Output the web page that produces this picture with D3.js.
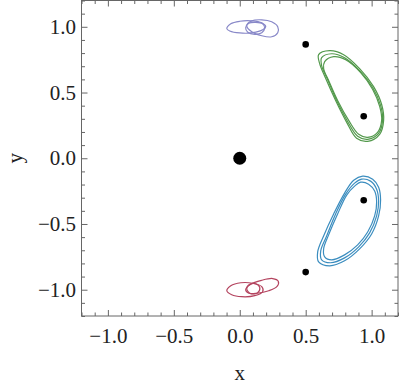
<!DOCTYPE html>
<html>
<head>
<meta charset="utf-8">
<script src="https://cdnjs.cloudflare.com/ajax/libs/d3/7.8.5/d3.min.js"></script>
<style>
  body { margin: 0; background: #fff; }
  svg { display: block; }
  svg text { font-family: "Liberation Serif", serif !important; font-size: 21px !important; }
</style>
</head>
<body>
<svg id="chart"></svg>
<script>
// Tick values
const majorTicks = [-1, -0.5, 0, 0.5, 1];

// Primaries: big one at the origin, small ones around it
const bigBody = [[0, 0]];
const smallBodies = [[0.5, 0.866], [0.94, 0.32], [0.94, -0.32], [0.5, -0.866]];

// Orbits (each traced as three loops)
const purpleLoops = [
  [[-0.098, 0.985], [-0.068, 1.023], [0, 1.042], [0.091, 1.045], [0.167, 1.030], [0.197, 1.0], [0.174, 0.977], [0.098, 0.955], [0, 0.953], [-0.076, 0.968]],
  [[0.053, 1.008], [0.091, 1.045], [0.167, 1.053], [0.242, 1.038], [0.288, 1.0], [0.288, 0.955], [0.242, 0.924], [0.167, 0.932], [0.091, 0.962]],
  [[0.045, 0.992], [0.068, 1.027], [0.121, 1.034], [0.174, 1.023], [0.189, 0.989], [0.167, 0.955], [0.114, 0.943], [0.061, 0.958]]
];

const greenLoops = [
  [[0.598, 0.788], [0.682, 0.818], [0.788, 0.788], [0.909, 0.682], [1.015, 0.545], [1.076, 0.409], [1.091, 0.288], [1.061, 0.182], [0.970, 0.129], [0.886, 0.152], [0.811, 0.273], [0.727, 0.439], [0.652, 0.606], [0.606, 0.720]],
  [[0.621, 0.765], [0.697, 0.795], [0.795, 0.765], [0.909, 0.667], [1.008, 0.538], [1.068, 0.402], [1.083, 0.288], [1.053, 0.189], [0.970, 0.144], [0.894, 0.167], [0.818, 0.280], [0.735, 0.439], [0.667, 0.598], [0.621, 0.705]],
  [[0.644, 0.735], [0.712, 0.773], [0.803, 0.750], [0.917, 0.652], [1.008, 0.523], [1.061, 0.394], [1.076, 0.288], [1.045, 0.197], [0.970, 0.159], [0.902, 0.182], [0.826, 0.288], [0.742, 0.439], [0.674, 0.591], [0.636, 0.682]]
];

const blueLoops = [
  [[0.932, -0.136], [1.008, -0.159], [1.053, -0.220], [1.068, -0.318], [1.053, -0.439], [1.0, -0.576], [0.909, -0.689], [0.795, -0.780], [0.682, -0.818], [0.598, -0.788], [0.591, -0.712], [0.636, -0.591], [0.712, -0.424], [0.795, -0.265], [0.864, -0.167]],
  [[0.924, -0.159], [0.992, -0.174], [1.038, -0.235], [1.053, -0.326], [1.038, -0.439], [0.985, -0.568], [0.902, -0.674], [0.795, -0.758], [0.689, -0.795], [0.621, -0.773], [0.614, -0.705], [0.659, -0.591], [0.727, -0.424], [0.803, -0.273], [0.871, -0.189]],
  [[0.917, -0.182], [0.977, -0.197], [1.023, -0.250], [1.038, -0.333], [1.023, -0.439], [0.970, -0.561], [0.894, -0.659], [0.795, -0.735], [0.697, -0.773], [0.644, -0.750], [0.636, -0.689], [0.674, -0.583], [0.742, -0.424], [0.811, -0.280], [0.871, -0.212]]
];

const redLoops = [
  [[-0.098, -1.008], [-0.068, -0.970], [0.008, -0.947], [0.098, -0.951], [0.167, -0.977], [0.174, -1.015], [0.114, -1.045], [0.015, -1.053], [-0.061, -1.038]],
  [[0.045, -1.0], [0.083, -0.958], [0.167, -0.928], [0.250, -0.915], [0.292, -0.935], [0.283, -0.975], [0.220, -1.008], [0.130, -1.027], [0.070, -1.027]],
  [[0.053, -0.992], [0.076, -0.958], [0.121, -0.955], [0.152, -0.985], [0.136, -1.023], [0.083, -1.030]]
];

const orbits = [
  {loops: purpleLoops, color: '#8888c8'},
  {loops: greenLoops, color: '#53994c'},
  {loops: blueLoops, color: '#3b8dbf'},
  {loops: redLoops, color: '#b4445f'}
];

const W = 399, H = 386;
const margin = {top: 0.5, right: 1, bottom: 70, left: 81.5};
const width = W - margin.left - margin.right;
const height = H - margin.top - margin.bottom;

const svg = d3.select('#chart').attr('width', W).attr('height', H);
const g = svg.append('g').attr('transform', `translate(${margin.left},${margin.top})`);

const x = d3.scaleLinear().domain([-1.2, 1.2]).range([0, width]);
const y = d3.scaleLinear().domain([-1.2, 1.2]).range([height, 0]);

const fmt = d => (d < 0 ? '\u2212' : '') + Math.abs(d).toFixed(1);
const minorX = x.ticks(24).filter(t => !majorTicks.some(m => Math.abs(m - t) < 1e-6));
const minorY = y.ticks(24).filter(t => !majorTicks.some(m => Math.abs(m - t) < 1e-6));

// Axes: ticks point inward on all four sides
function addAxis(axisFn, scale, ticks, size, padding, transform) {
  const a = g.append('g').attr('transform', transform)
    .call(axisFn(scale).tickValues(ticks).tickSize(-size).tickPadding(padding || 0)
      .tickFormat(padding ? fmt : ''));
  a.select('.domain').remove();
  a.selectAll('.tick line').attr('stroke', '#666');
  a.selectAll('.tick text').attr('fill', '#222');
  return a;
}
addAxis(d3.axisBottom, x, majorTicks, 6, 12, `translate(0,${height})`);
addAxis(d3.axisBottom, x, minorX, 3.5, 0, `translate(0,${height})`);
addAxis(d3.axisTop, x, majorTicks, 6, 0, 'translate(0,0)');
addAxis(d3.axisTop, x, minorX, 3.5, 0, 'translate(0,0)');
addAxis(d3.axisLeft, y, majorTicks, 6, 5.5, 'translate(0,0)');
addAxis(d3.axisLeft, y, minorY, 3.5, 0, 'translate(0,0)');
addAxis(d3.axisRight, y, majorTicks, 6, 0, `translate(${width},0)`);
addAxis(d3.axisRight, y, minorY, 3.5, 0, `translate(${width},0)`);

// Frame
g.append('rect')
  .attr('width', width).attr('height', height)
  .attr('fill', 'none').attr('stroke', '#666').attr('stroke-width', 1);

// Orbits
const line = d3.line()
  .x(d => x(d[0]))
  .y(d => y(d[1]))
  .curve(d3.curveCatmullRomClosed.alpha(0.5));

orbits.forEach(o => {
  g.append('g').selectAll('path')
    .data(o.loops)
    .join('path')
      .attr('d', line)
      .attr('fill', 'none')
      .attr('stroke', o.color)
      .attr('stroke-width', 1.2);
});

// Bodies
g.selectAll('circle.big').data(bigBody).join('circle')
  .attr('class', 'big')
  .attr('cx', d => x(d[0])).attr('cy', d => y(d[1])).attr('r', 6.5)
  .attr('fill', '#000');

g.selectAll('circle.small').data(smallBodies).join('circle')
  .attr('class', 'small')
  .attr('cx', d => x(d[0])).attr('cy', d => y(d[1])).attr('r', 3.3)
  .attr('fill', '#000');

// Axis labels
svg.append('text')
  .attr('x', margin.left + x(0)).attr('y', 380)
  .attr('text-anchor', 'middle')
  .attr('fill', '#222')
  .text('x');

svg.append('text')
  .attr('transform', `translate(22,${margin.top + y(0)}) rotate(-90)`)
  .attr('text-anchor', 'middle')
  .attr('fill', '#222')
  .text('y');
</script>
</body>
</html>
